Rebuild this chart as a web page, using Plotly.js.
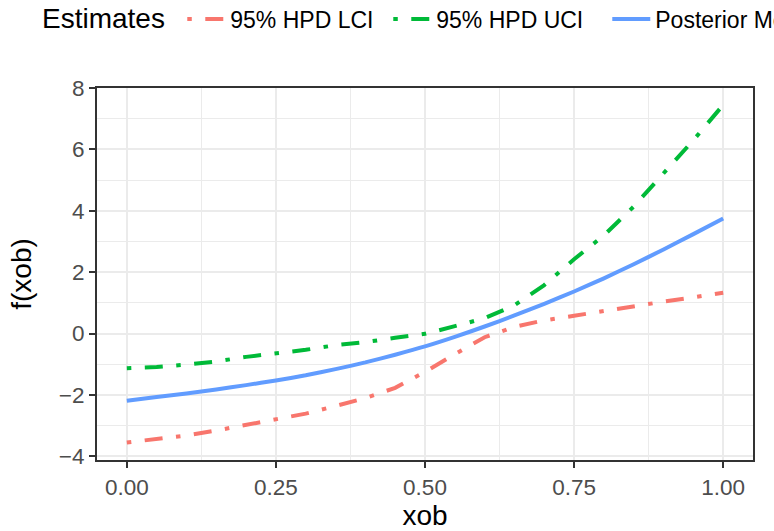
<!DOCTYPE html>
<html>
<head>
<meta charset="utf-8">
<script src="https://cdn.plot.ly/plotly-3.0.1.min.js"></script>
<style>
html,body{margin:0;padding:0;overflow:hidden;background:#fff;}
#chart{width:774px;height:531px;}
</style>
</head>
<body>
<div id="chart"></div>
<script>
const xob = [0, 0.05, 0.1, 0.15, 0.2, 0.25, 0.3, 0.35, 0.4, 0.45, 0.5, 0.55, 0.6, 0.65, 0.7, 0.75, 0.8, 0.85, 0.9, 0.95, 1.0];
const lowerCI = [-3.55, -3.45, -3.32, -3.16, -2.97, -2.78, -2.61, -2.36, -2.10, -1.77, -1.25, -0.67, -0.12, 0.22, 0.43, 0.58, 0.74, 0.87, 1.04, 1.18, 1.33];
const upperCI = [-1.13, -1.09, -1.01, -0.91, -0.76, -0.66, -0.53, -0.38, -0.28, -0.14, -0.01, 0.24, 0.50, 0.92, 1.58, 2.42, 3.20, 4.14, 5.20, 6.30, 7.45];
const postMean = [-2.19, -2.07, -1.95, -1.82, -1.68, -1.53, -1.36, -1.16, -0.94, -0.69, -0.42, -0.11, 0.23, 0.59, 0.97, 1.37, 1.80, 2.26, 2.74, 3.24, 3.75];
const seriesNames = ["95% HPD LCI", "95% HPD UCI", "Posterior Mean"];
const legendTitle = "Estimates";
const xTickVals = [0, 0.25, 0.5, 0.75, 1.0];
const xTickText = ["0.00", "0.25", "0.50", "0.75", "1.00"];
const yTickVals = [-4, -2, 0, 2, 4, 6, 8];
const yTickText = ["\u22124", "\u22122", "0", "2", "4", "6", "8"];

const FONT = "Liberation Sans, Arial, Helvetica, sans-serif";
const dotdash = "4.5px,13.5px,18px,13.5px";

const traces = [
  {x: xob, y: lowerCI, name: seriesNames[0], type: "scatter", mode: "lines",
   line: {color: "#F8766D", width: 4, dash: dotdash}, legendwidth: 153},
  {x: xob, y: upperCI, name: seriesNames[1], type: "scatter", mode: "lines",
   line: {color: "#00BA38", width: 4, dash: dotdash}, legendwidth: 166},
  {x: xob, y: postMean, name: seriesNames[2], type: "scatter", mode: "lines",
   line: {color: "#619CFF", width: 4, shape: "spline", smoothing: 0.6}, legendwidth: 140}
];

const axisCommon = {
  showline: true, mirror: true, linecolor: "#333333", linewidth: 2,
  ticks: "outside", ticklen: 6, tickwidth: 2, tickcolor: "#333333",
  showgrid: true, gridcolor: "#EBEBEB", gridwidth: 2,
  zeroline: false,
  tickfont: {family: FONT, size: 22.5, color: "#4D4D4D"}
};

const layout = {
  width: 774, height: 531,
  paper_bgcolor: "#FFFFFF", plot_bgcolor: "#FFFFFF",
  margin: {l: 97, r: 21, t: 88, b: 71, pad: 0, autoexpand: false},
  showlegend: true,
  legend: {
    orientation: "h", x: 0.13, xanchor: "left", y: 1.1855, yanchor: "middle",
    itemwidth: 38,
    font: {family: FONT, size: 23, color: "#000000"},
    bgcolor: "rgba(0,0,0,0)", borderwidth: 0
  },
  annotations: [{
    text: legendTitle, xref: "paper", yref: "paper", x: -0.0869, y: 1.1855,
    xanchor: "left", yanchor: "middle", showarrow: false,
    font: {family: FONT, size: 28, color: "#000000"}
  }],
  xaxis: Object.assign({}, axisCommon, {
    range: [-0.05, 1.05], tickmode: "array", tickvals: xTickVals, ticktext: xTickText,
    minor: {dtick: 0.125, tick0: 0.125, showgrid: true, gridcolor: "#EBEBEB", gridwidth: 1, ticks: ""},
    title: {text: "xob", font: {family: FONT, size: 28, color: "#000000"}, standoff: 8}
  }),
  yaxis: Object.assign({}, axisCommon, {
    range: [-4.12, 8.0], tickmode: "array", tickvals: yTickVals, ticktext: yTickText,
    minor: {dtick: 1, tick0: 1, showgrid: true, gridcolor: "#EBEBEB", gridwidth: 1, ticks: ""},
    title: {text: "f(xob)", font: {family: FONT, size: 28, color: "#000000"}, standoff: 19}
  })
};

Plotly.newPlot("chart", traces, layout, {staticPlot: true, displayModeBar: false});
</script>
</body>
</html>
